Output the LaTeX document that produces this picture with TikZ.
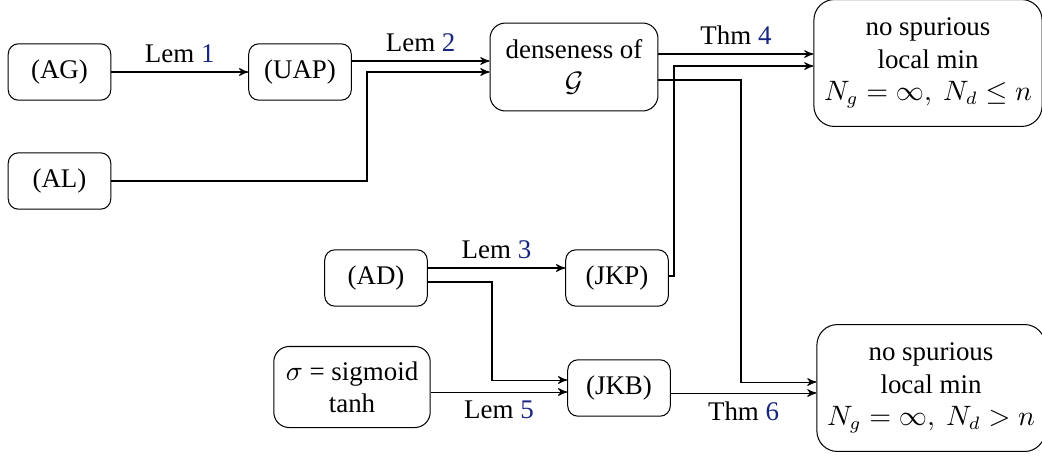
\documentclass[tikz,border=0pt]{standalone}
\usepackage{fontspec}
\setmainfont{Liberation Serif}
\usepackage{amsmath,amssymb}
\usetikzlibrary{arrows,positioning}
\definecolor{refblue}{rgb}{0.1,0.15,0.5}
\newcommand{\rf}[1]{\textcolor{refblue}{#1}}

\begin{document}
\begin{tikzpicture}[x=0.39pt,y=-0.39pt,>=stealth',
    every node/.style = {font=\fontsize{10.5}{12.6}\selectfont},
    box/.style = {draw, rounded corners=4pt, align=center,
        minimum width=40pt, minimum height=22pt},
    bigbox/.style = {box, rounded corners=8pt,
        minimum width=89pt, minimum height=49.5pt, inner sep=2pt}]
\useasboundingbox (0,0) rectangle (1042,455);

\node[box] (AG) at (59.5,72) {(AG)};
\node[box] (UAP) at (300,72) {(UAP)};
\node[box, minimum width=65.5pt, minimum height=34.3pt, rounded corners=6pt] (dense) at (574,67) {denseness of\\$\mathcal{G}$};
\node[box] (AL) at (59.5,181) {(AL)};
\node[box] (AD) at (376,278) {(AD)};
\node[box] (JKP) at (617,278) {(JKP)};
\node[box, minimum width=61pt, minimum height=31.6pt, rounded corners=6pt] (sig) at (352,387) {$\sigma$ = sigmoid\\tanh};
\node[box] (JKB) at (619,388) {(JKB)};
\node[bigbox] (lmA) at (928,63) {no spurious\\local min\\$N_g=\infty,\ N_d\le n$};
\node[bigbox] (lmB) at (931,388) {no spurious\\local min\\$N_g=\infty,\ N_d>n$};

\coordinate (kAL) at (367,120);
\coordinate (kD) at (741,200);
\coordinate (kP) at (674,150);
\coordinate (kAD) at (492,330);

\draw[->] (AG) -- node[above] {Lem \rf{1}} (UAP);
\draw[->] (UAP.east |- 0,61) -- node[above] {Lem \rf{2}} (dense.west |- 0,61);
\draw[->] (AL.east) -| (kAL) |- (dense.west |- 0,72);
\draw[->] (dense.east |- 0,54) -- node[above] {Thm \rf{4}} (lmA.west |- 0,54);
\draw[->] (dense.east |- 0,80) -| (kD) |- (lmB.west |- 0,382);
\draw[->] (JKP.east |- 0,276) -| (kP) |- (lmA.west |- 0,66);
\draw[->] (AD.east |- 0,268) -- node[above] {Lem \rf{3}} (JKP.west |- 0,268);
\draw[->] (AD.east |- 0,282) -| (kAD) |- (JKB.west |- 0,380);
\draw[->] (sig.east |- 0,392) -- node[below] {Lem \rf{5}} (JKB.west |- 0,392);
\draw[->] (JKB.east |- 0,393) -- node[below] {Thm \rf{6}} (lmB.west |- 0,393);
\end{tikzpicture}
\end{document}
